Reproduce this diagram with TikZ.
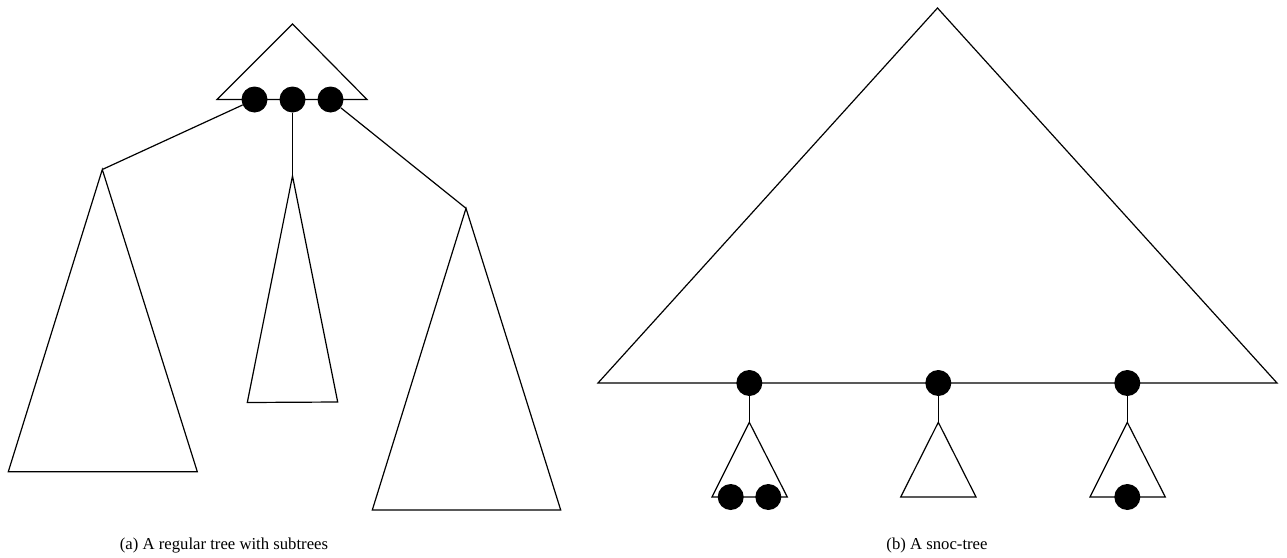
\documentclass[tikz,border=0pt]{standalone}
\usepackage{fontspec}
\setmainfont{Liberation Serif}
\begin{document}
\begin{tikzpicture}[x=1pt,y=-1pt,
  edge/.style={line width=1.2pt, line join=miter},
  dot/.style={circle, fill=black, inner sep=0pt, minimum size=26pt},
  captext/.style={font=\fontsize{16.7}{20}\selectfont, anchor=base}]
\useasboundingbox (0,0) rectangle (1287,557);
% ---------- (a) ----------
\coordinate (ta) at (292.5,24);
\coordinate (tl) at (217,99.5);
\coordinate (tr) at (367,99.5);
\draw[edge] (ta) -- (tl) -- (tr) -- cycle;
\node[dot] (a1) at (254.5,99.5) {};
\node[dot] (a2) at (292.5,99.5) {};
\node[dot] (a3) at (330.5,99.5) {};
% left subtree
\coordinate (la) at (102.3,169.5);
\coordinate (ll) at (8.3,471.7);
\coordinate (lr) at (197.3,471.7);
\draw[edge] (la) -- (ll) -- (lr) -- cycle;
\draw[edge] (a1) -- (la);
% middle subtree
\coordinate (ma) at (292.5,176);
\coordinate (ml) at (247.3,402.5);
\coordinate (mr) at (337.7,402);
\draw[edge] (ma) -- (ml) -- (mr) -- cycle;
\draw[edge] (a2) -- (ma);
% right subtree
\coordinate (ra) at (466,208.3);
\coordinate (rl) at (372.3,510);
\coordinate (rr) at (560.7,510);
\draw[edge] (ra) -- (rl) -- (rr) -- cycle;
\draw[edge] (a3) -- (ra);
\node[captext] (capa) at (224,549) {(a) A regular tree with subtrees};
% ---------- (b) ----------
\coordinate (ba) at (937.5,8);
\coordinate (bl) at (598,383);
\coordinate (br) at (1277,383);
\draw[edge] (ba) -- (bl) -- (br) -- cycle;
\node[dot] (b1) at (749.3,383) {};
\node[dot] (b2) at (938.3,383) {};
\node[dot] (b3) at (1127.3,383) {};
% small subtrees
\coordinate (s1a) at (749.3,422.3);
\coordinate (s1l) at (712,497);
\coordinate (s1r) at (787.3,497);
\draw[edge] (s1a) -- (s1l) -- (s1r) -- cycle;
\draw[edge] (b1) -- (s1a);
\node[dot] (c1) at (730.7,497) {};
\node[dot] (c2) at (768.3,497) {};
\coordinate (s2a) at (938.3,422.3);
\coordinate (s2l) at (900.7,497);
\coordinate (s2r) at (976,497);
\draw[edge] (s2a) -- (s2l) -- (s2r) -- cycle;
\draw[edge] (b2) -- (s2a);
\coordinate (s3a) at (1127.3,422.3);
\coordinate (s3l) at (1090,497);
\coordinate (s3r) at (1165.3,497);
\draw[edge] (s3a) -- (s3l) -- (s3r) -- cycle;
\draw[edge] (b3) -- (s3a);
\node[dot] (c3) at (1127.3,497) {};
\node[captext] (capb) at (937,549) {(b) A snoc-tree};
\end{tikzpicture}
\end{document}
